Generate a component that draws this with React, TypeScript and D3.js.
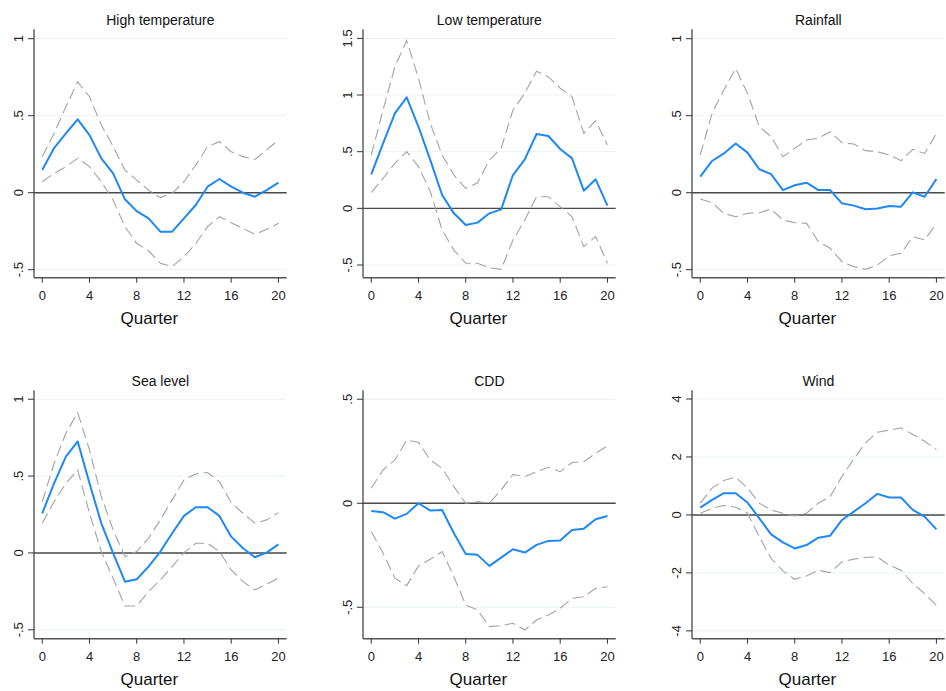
import React from "react";
import * as d3 from "d3";

// impulse responses by quarter, with upper / lower confidence bands
const quarters = [0, 1, 2, 3, 4, 5, 6, 7, 8, 9, 10, 11, 12, 13, 14, 15, 16, 17, 18, 19, 20];
const titles = ["High temperature", "Low temperature", "Rainfall", "Sea level", "CDD", "Wind"];

const highTemp = [0.147, 0.29, 0.385, 0.476, 0.374, 0.223, 0.125, -0.043, -0.12, -0.167, -0.253, -0.253, -0.167, -0.08, 0.039, 0.089, 0.039, 0.0, -0.026, 0.017, 0.065];
const highTempUp = [0.234, 0.385, 0.558, 0.72, 0.623, 0.44, 0.3, 0.147, 0.082, 0.017, -0.032, -0.004, 0.071, 0.18, 0.3, 0.331, 0.266, 0.234, 0.216, 0.277, 0.342];
const highTempLo = [0.071, 0.125, 0.169, 0.223, 0.169, 0.071, -0.048, -0.22, -0.33, -0.377, -0.459, -0.48, -0.416, -0.33, -0.22, -0.156, -0.195, -0.232, -0.271, -0.238, -0.199];

const lowTemp = [0.3, 0.574, 0.838, 0.979, 0.72, 0.426, 0.118, -0.044, -0.147, -0.126, -0.044, -0.009, 0.294, 0.432, 0.656, 0.638, 0.524, 0.441, 0.156, 0.256, 0.024];
const lowTempUp = [0.47, 0.868, 1.25, 1.48, 1.147, 0.75, 0.47, 0.294, 0.176, 0.226, 0.426, 0.53, 0.868, 1.015, 1.21, 1.16, 1.06, 0.985, 0.662, 0.774, 0.559];
const lowTempLo = [0.138, 0.265, 0.397, 0.5, 0.368, 0.147, -0.191, -0.368, -0.485, -0.485, -0.524, -0.538, -0.28, -0.103, 0.103, 0.103, 0.015, -0.074, -0.338, -0.25, -0.485];

const rainfall = [0.104, 0.206, 0.255, 0.32, 0.26, 0.152, 0.121, 0.017, 0.048, 0.065, 0.017, 0.017, -0.069, -0.084, -0.108, -0.102, -0.087, -0.091, 0.002, -0.026, 0.089];
const rainfallUp = [0.245, 0.515, 0.667, 0.807, 0.645, 0.429, 0.364, 0.234, 0.288, 0.342, 0.353, 0.396, 0.325, 0.316, 0.273, 0.266, 0.245, 0.208, 0.281, 0.255, 0.385];
const rainfallLo = [-0.041, -0.065, -0.134, -0.156, -0.134, -0.13, -0.106, -0.177, -0.195, -0.199, -0.318, -0.361, -0.448, -0.48, -0.498, -0.47, -0.409, -0.394, -0.286, -0.307, -0.199];

const seaLevel = [0.258, 0.453, 0.627, 0.725, 0.453, 0.193, -0.002, -0.187, -0.171, -0.089, 0.009, 0.128, 0.241, 0.297, 0.297, 0.241, 0.106, 0.03, -0.028, 0.002, 0.056];
const seaLevelUp = [0.334, 0.583, 0.779, 0.913, 0.67, 0.367, 0.15, -0.024, 0.009, 0.095, 0.215, 0.345, 0.475, 0.514, 0.523, 0.464, 0.328, 0.258, 0.193, 0.215, 0.262];
const seaLevelLo = [0.193, 0.334, 0.453, 0.54, 0.258, 0.009, -0.165, -0.345, -0.345, -0.252, -0.176, -0.089, 0.002, 0.063, 0.063, 0.009, -0.111, -0.187, -0.241, -0.202, -0.165];

const cdd = [-0.037, -0.043, -0.074, -0.051, 0.0, -0.035, -0.032, -0.144, -0.244, -0.248, -0.301, -0.261, -0.221, -0.237, -0.2, -0.181, -0.179, -0.128, -0.122, -0.077, -0.061];
const cddUp = [0.072, 0.16, 0.208, 0.304, 0.293, 0.208, 0.168, 0.08, 0.0, 0.008, 0.0, 0.064, 0.139, 0.128, 0.152, 0.173, 0.152, 0.196, 0.2, 0.24, 0.276];
const cddLo = [-0.136, -0.24, -0.36, -0.396, -0.301, -0.269, -0.232, -0.353, -0.489, -0.513, -0.593, -0.588, -0.577, -0.609, -0.561, -0.537, -0.505, -0.457, -0.449, -0.409, -0.401];

const wind = [0.254, 0.52, 0.75, 0.75, 0.428, -0.116, -0.67, -0.948, -1.156, -1.04, -0.786, -0.717, -0.173, 0.116, 0.405, 0.728, 0.601, 0.601, 0.173, -0.058, -0.497];
const windUp = [0.405, 0.925, 1.19, 1.306, 0.925, 0.405, 0.173, 0.058, -0.035, 0.058, 0.405, 0.636, 1.33, 1.93, 2.486, 2.855, 2.925, 3.006, 2.775, 2.543, 2.254];
const windLo = [0.058, 0.231, 0.324, 0.266, 0.058, -0.751, -1.503, -1.93, -2.22, -2.104, -1.908, -1.988, -1.618, -1.526, -1.468, -1.445, -1.734, -1.908, -2.37, -2.717, -3.121];

const xTicks = [0, 4, 8, 12, 16, 20];
const yTicks = [
  [-0.5, 0, 0.5, 1],
  [-0.5, 0, 0.5, 1, 1.5],
  [-0.5, 0, 0.5, 1],
  [-0.5, 0, 0.5, 1],
  [-0.5, 0, 0.5],
  [-4, -2, 0, 2, 4],
];
const yMin = [-0.552, -0.612, -0.552, -0.558, -0.651, -4.27];
const yMax = [1.061, 1.58, 1.061, 1.058, 0.543, 4.3];

const mid = [highTemp, lowTemp, rainfall, seaLevel, cdd, wind];
const upper = [highTempUp, lowTempUp, rainfallUp, seaLevelUp, cddUp, windUp];
const lower = [highTempLo, lowTempLo, rainfallLo, seaLevelLo, cddLo, windLo];

const W = 946;
const H = 691;
const colX = [34, 363, 692];
const rowTop = [29.3, 390.3];
const plotW = 252.7;
const plotH = 248.4;
const font = "Arial, 'Liberation Sans', Helvetica, sans-serif";

// stata style labels: ".5", "-.5"
const fmt = (v: number) => {
  if (v === 0) return "0";
  return String(v).replace("0.", ".");
};

const Panel = ({ i }: { i: number }) => {
  const left = colX[i % 3];
  const top = rowTop[Math.floor(i / 3)];
  const bottom = top + plotH;
  const right = left + plotW;

  const x = d3.scaleLinear().domain([-0.7, 20.7]).range([left, right]);
  const y = d3.scaleLinear().domain([yMin[i], yMax[i]]).range([bottom, top]);

  const line = d3
    .line<number>()
    .x((_, k) => x(quarters[k]))
    .y((d) => y(d));

  const cx = (left + right) / 2;

  return (
    <g>
      {yTicks[i].map((t) => (
        <line key={"g" + t} x1={left} x2={right} y1={y(t)} y2={y(t)} stroke="#eaf2f3" strokeWidth={1} />
      ))}
      <line x1={left} x2={right} y1={y(0)} y2={y(0)} stroke="#4a4a4a" strokeWidth={1.4} />
      <path d={line(upper[i]) || ""} fill="none" stroke="#a3a3a3" strokeWidth={1.1} strokeDasharray="11,5" />
      <path d={line(lower[i]) || ""} fill="none" stroke="#a3a3a3" strokeWidth={1.1} strokeDasharray="11,5" />
      <path d={line(mid[i]) || ""} fill="none" stroke="#1e88f5" strokeWidth={2} strokeLinejoin="round" />

      {/* axes */}
      <line x1={left} x2={left} y1={top} y2={bottom} stroke="#555" strokeWidth={1.4} />
      <line x1={left} x2={right} y1={bottom} y2={bottom} stroke="#555" strokeWidth={1.4} />
      {yTicks[i].map((t) => (
        <g key={"y" + t}>
          <line x1={left - 6} x2={left} y1={y(t)} y2={y(t)} stroke="#333" strokeWidth={1} />
          <text
            transform={`translate(${left - 11.5},${y(t)}) rotate(-90)`}
            textAnchor="middle"
            fontSize={13}
            fontFamily={font}
            fill="#222"
          >
            {fmt(t)}
          </text>
        </g>
      ))}
      {xTicks.map((t) => (
        <g key={"x" + t}>
          <line x1={x(t)} x2={x(t)} y1={bottom} y2={bottom + 5} stroke="#333" strokeWidth={1} />
          <text x={x(t)} y={bottom + 22} textAnchor="middle" fontSize={13} fontFamily={font} fill="#222">
            {t}
          </text>
        </g>
      ))}
      <text x={cx} y={top - 4.5} textAnchor="middle" fontSize={14} fontFamily={font} fill="#111">
        {titles[i]}
      </text>
      <text x={cx - 11} y={bottom + 46.5} textAnchor="middle" fontSize={17} fontFamily={font} fill="#111">
        Quarter
      </text>
    </g>
  );
};

export default function App() {
  return (
    <svg width={W} height={H} style={{ position: "absolute", left: 0, top: 0, background: "#fff" }}>
      <rect width={W} height={H} fill="#fff" />
      {titles.map((_, i) => (
        <Panel key={i} i={i} />
      ))}
    </svg>
  );
}
